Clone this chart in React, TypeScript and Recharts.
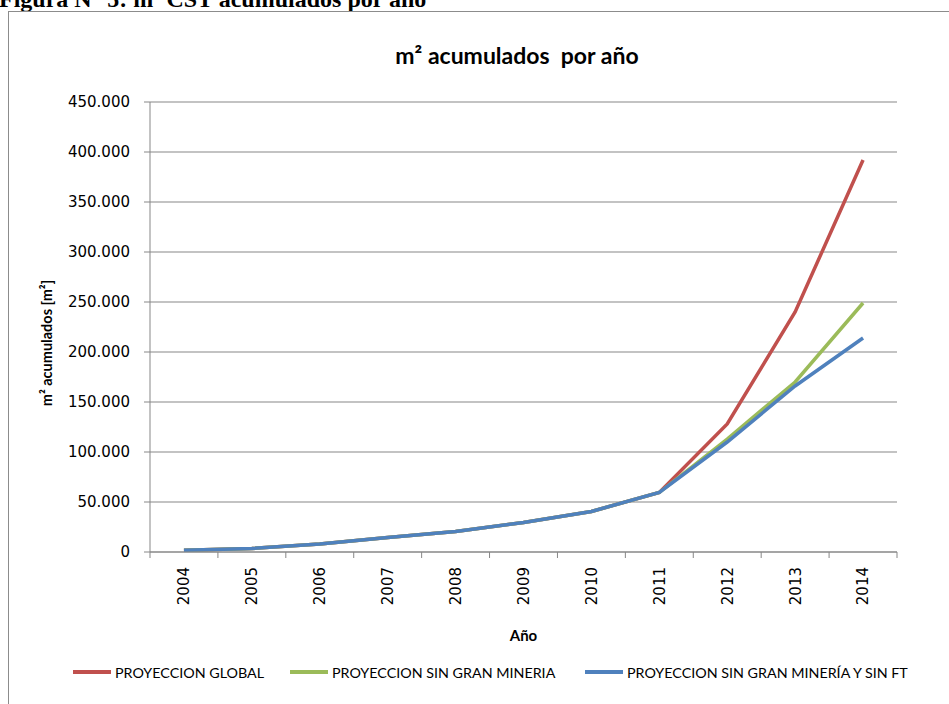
import React from "react";
import {
  LineChart,
  Line,
  XAxis,
  YAxis,
  CartesianGrid,
} from "recharts";

// ─── Data ──────────────────────────────────────────────────────────

const years = ["2004", "2005", "2006", "2007", "2008", "2009", "2010", "2011", "2012", "2013", "2014"];
const proyeccionGlobal = [1800, 3500, 8000, 14500, 20500, 29500, 40500, 59500, 128000, 240000, 392000];
const sinGranMineria = [1800, 3500, 8000, 14500, 20500, 29500, 40500, 59500, 113000, 170000, 249000];
const sinGranMineriaFT = [1800, 3500, 8000, 14500, 20500, 29500, 40500, 59500, 110000, 166000, 214000];
const yTicks = [0, 50000, 100000, 150000, 200000, 250000, 300000, 350000, 400000, 450000];

const seriesInfo = [
  { key: "global", name: "PROYECCION GLOBAL", color: "#C0504D" },
  { key: "sinGM", name: "PROYECCION SIN GRAN MINERIA", color: "#9BBB59" },
  { key: "sinGMFT", name: "PROYECCION SIN GRAN MINERÍA Y SIN FT", color: "#4F81BD" },
];

const data = years.map((year, i) => ({
  year,
  global: proyeccionGlobal[i],
  sinGM: sinGranMineria[i],
  sinGMFT: sinGranMineriaFT[i],
}));

// ─── Layout ────────────────────────────────────────────────────────

const W = 949;
const H = 704;
const PLOT_LEFT = 150;
const PLOT_RIGHT = 897;
const PLOT_TOP = 102;
const PLOT_BOTTOM = 552;
const BAND = (PLOT_RIGHT - PLOT_LEFT) / years.length;
const LEGEND_X = [73, 290, 585];

const SANS = 'Lato, "Noto Sans", sans-serif';
const TICK_FONT = '"DejaVu Sans", sans-serif';
const AXIS_GRAY = "#878787";

const fmtThousands = (v: number) =>
  v.toString().replace(/\B(?=(\d{3})+(?!\d))/g, ".");

// x ticks: Excel-style marks between categories, labels rotated
function YearTick(props: any) {
  const { x, payload, index } = props;
  const left = x - BAND / 2;
  return (
    <g>
      <line x1={left} y1={PLOT_BOTTOM} x2={left} y2={PLOT_BOTTOM + 6} stroke={AXIS_GRAY} />
      {index === years.length - 1 && (
        <line x1={x + BAND / 2} y1={PLOT_BOTTOM} x2={x + BAND / 2} y2={PLOT_BOTTOM + 6} stroke={AXIS_GRAY} />
      )}
      <g transform={`translate(${x},${PLOT_BOTTOM + 15})`}>
        <text
          transform="rotate(-90)"
          textAnchor="end"
          dy="0.36em"
          fill="#000"
          fontSize={15}
          fontFamily={TICK_FONT}
        >
          {payload.value}
        </text>
      </g>
    </g>
  );
}

function YTitle() {
  return (
    <text
      transform="translate(52,343) rotate(-90)"
      textAnchor="middle"
      fill="#000"
      fontSize={14.5}
      fontWeight="bold"
      fontFamily={SANS}
    >
      m² acumulados [m²]
    </text>
  );
}

function ChartLegend() {
  return (
    <>
      {seriesInfo.map((s, i) => (
        <div
          key={s.key}
          style={{
            position: "absolute",
            left: LEGEND_X[i],
            top: 662,
            height: 20,
            display: "flex",
            alignItems: "center",
            whiteSpace: "nowrap",
            fontFamily: SANS,
            fontSize: 14.3,
            color: "#000",
          }}
        >
          <span style={{ display: "inline-block", width: 38, height: 4, background: s.color, marginRight: 4 }} />
          <span>{s.name}</span>
        </div>
      ))}
    </>
  );
}

export default function App() {
  return (
    <div style={{ position: "fixed", left: 0, top: 0, width: W, height: H, overflow: "hidden", background: "#fff" }}>
      <div
        style={{
          position: "absolute",
          left: -1,
          top: -13,
          fontFamily: '"Liberation Serif", "Times New Roman", serif',
          fontWeight: "bold",
          fontSize: 24,
          lineHeight: "24px",
          whiteSpace: "nowrap",
        }}
      >
        Figura N° 5: m² CST acumulados por año
      </div>
      <div
        style={{
          position: "absolute",
          left: 8,
          top: 11,
          width: 960,
          height: 720,
          border: "1.5px solid #8c8c8c",
          boxSizing: "border-box",
        }}
      />
      <div
        style={{
          position: "absolute",
          left: 0,
          top: 41,
          width: 1034,
          textAlign: "center",
          fontFamily: SANS,
          fontWeight: "bold",
          fontSize: 23,
          lineHeight: "28px",
          whiteSpace: "nowrap",
        }}
      >
        m² acumulados&nbsp; por año
      </div>
      <div style={{ position: "absolute", left: 0, top: 0 }}>
        <LineChart
          width={W}
          height={H}
          data={data}
          margin={{ top: PLOT_TOP, right: W - PLOT_RIGHT, left: 10, bottom: H - PLOT_BOTTOM - 60 }}
        >
          <CartesianGrid horizontal vertical={false} stroke={AXIS_GRAY} strokeWidth={1} />
          <XAxis
            dataKey="year"
            stroke={AXIS_GRAY}
            tickLine={false}
            tick={<YearTick />}
            height={60}
            interval={0}
            padding={{ left: BAND / 2, right: BAND / 2 }}
            label={{
              value: "Año",
              position: "insideBottom",
              offset: -29,
              style: { fontFamily: SANS, fontWeight: "bold", fontSize: 15, fill: "#000" },
            }}
          />
          <YAxis
            domain={[0, 450000]}
            ticks={yTicks}
            width={PLOT_LEFT - 10}
            stroke={AXIS_GRAY}
            tickSize={6}
            tickMargin={14}
            tickFormatter={fmtThousands}
            tick={{ fill: "#000", fontSize: 15, fontFamily: TICK_FONT }}
            interval={0}
            label={<YTitle />}
          />
          {seriesInfo.map((s) => (
            <Line
              key={s.key}
              type="linear"
              dataKey={s.key}
              name={s.name}
              stroke={s.color}
              strokeWidth={3.5}
              dot={false}
              activeDot={false}
              isAnimationActive={false}
            />
          ))}
        </LineChart>
      </div>
      <ChartLegend />
    </div>
  );
}
